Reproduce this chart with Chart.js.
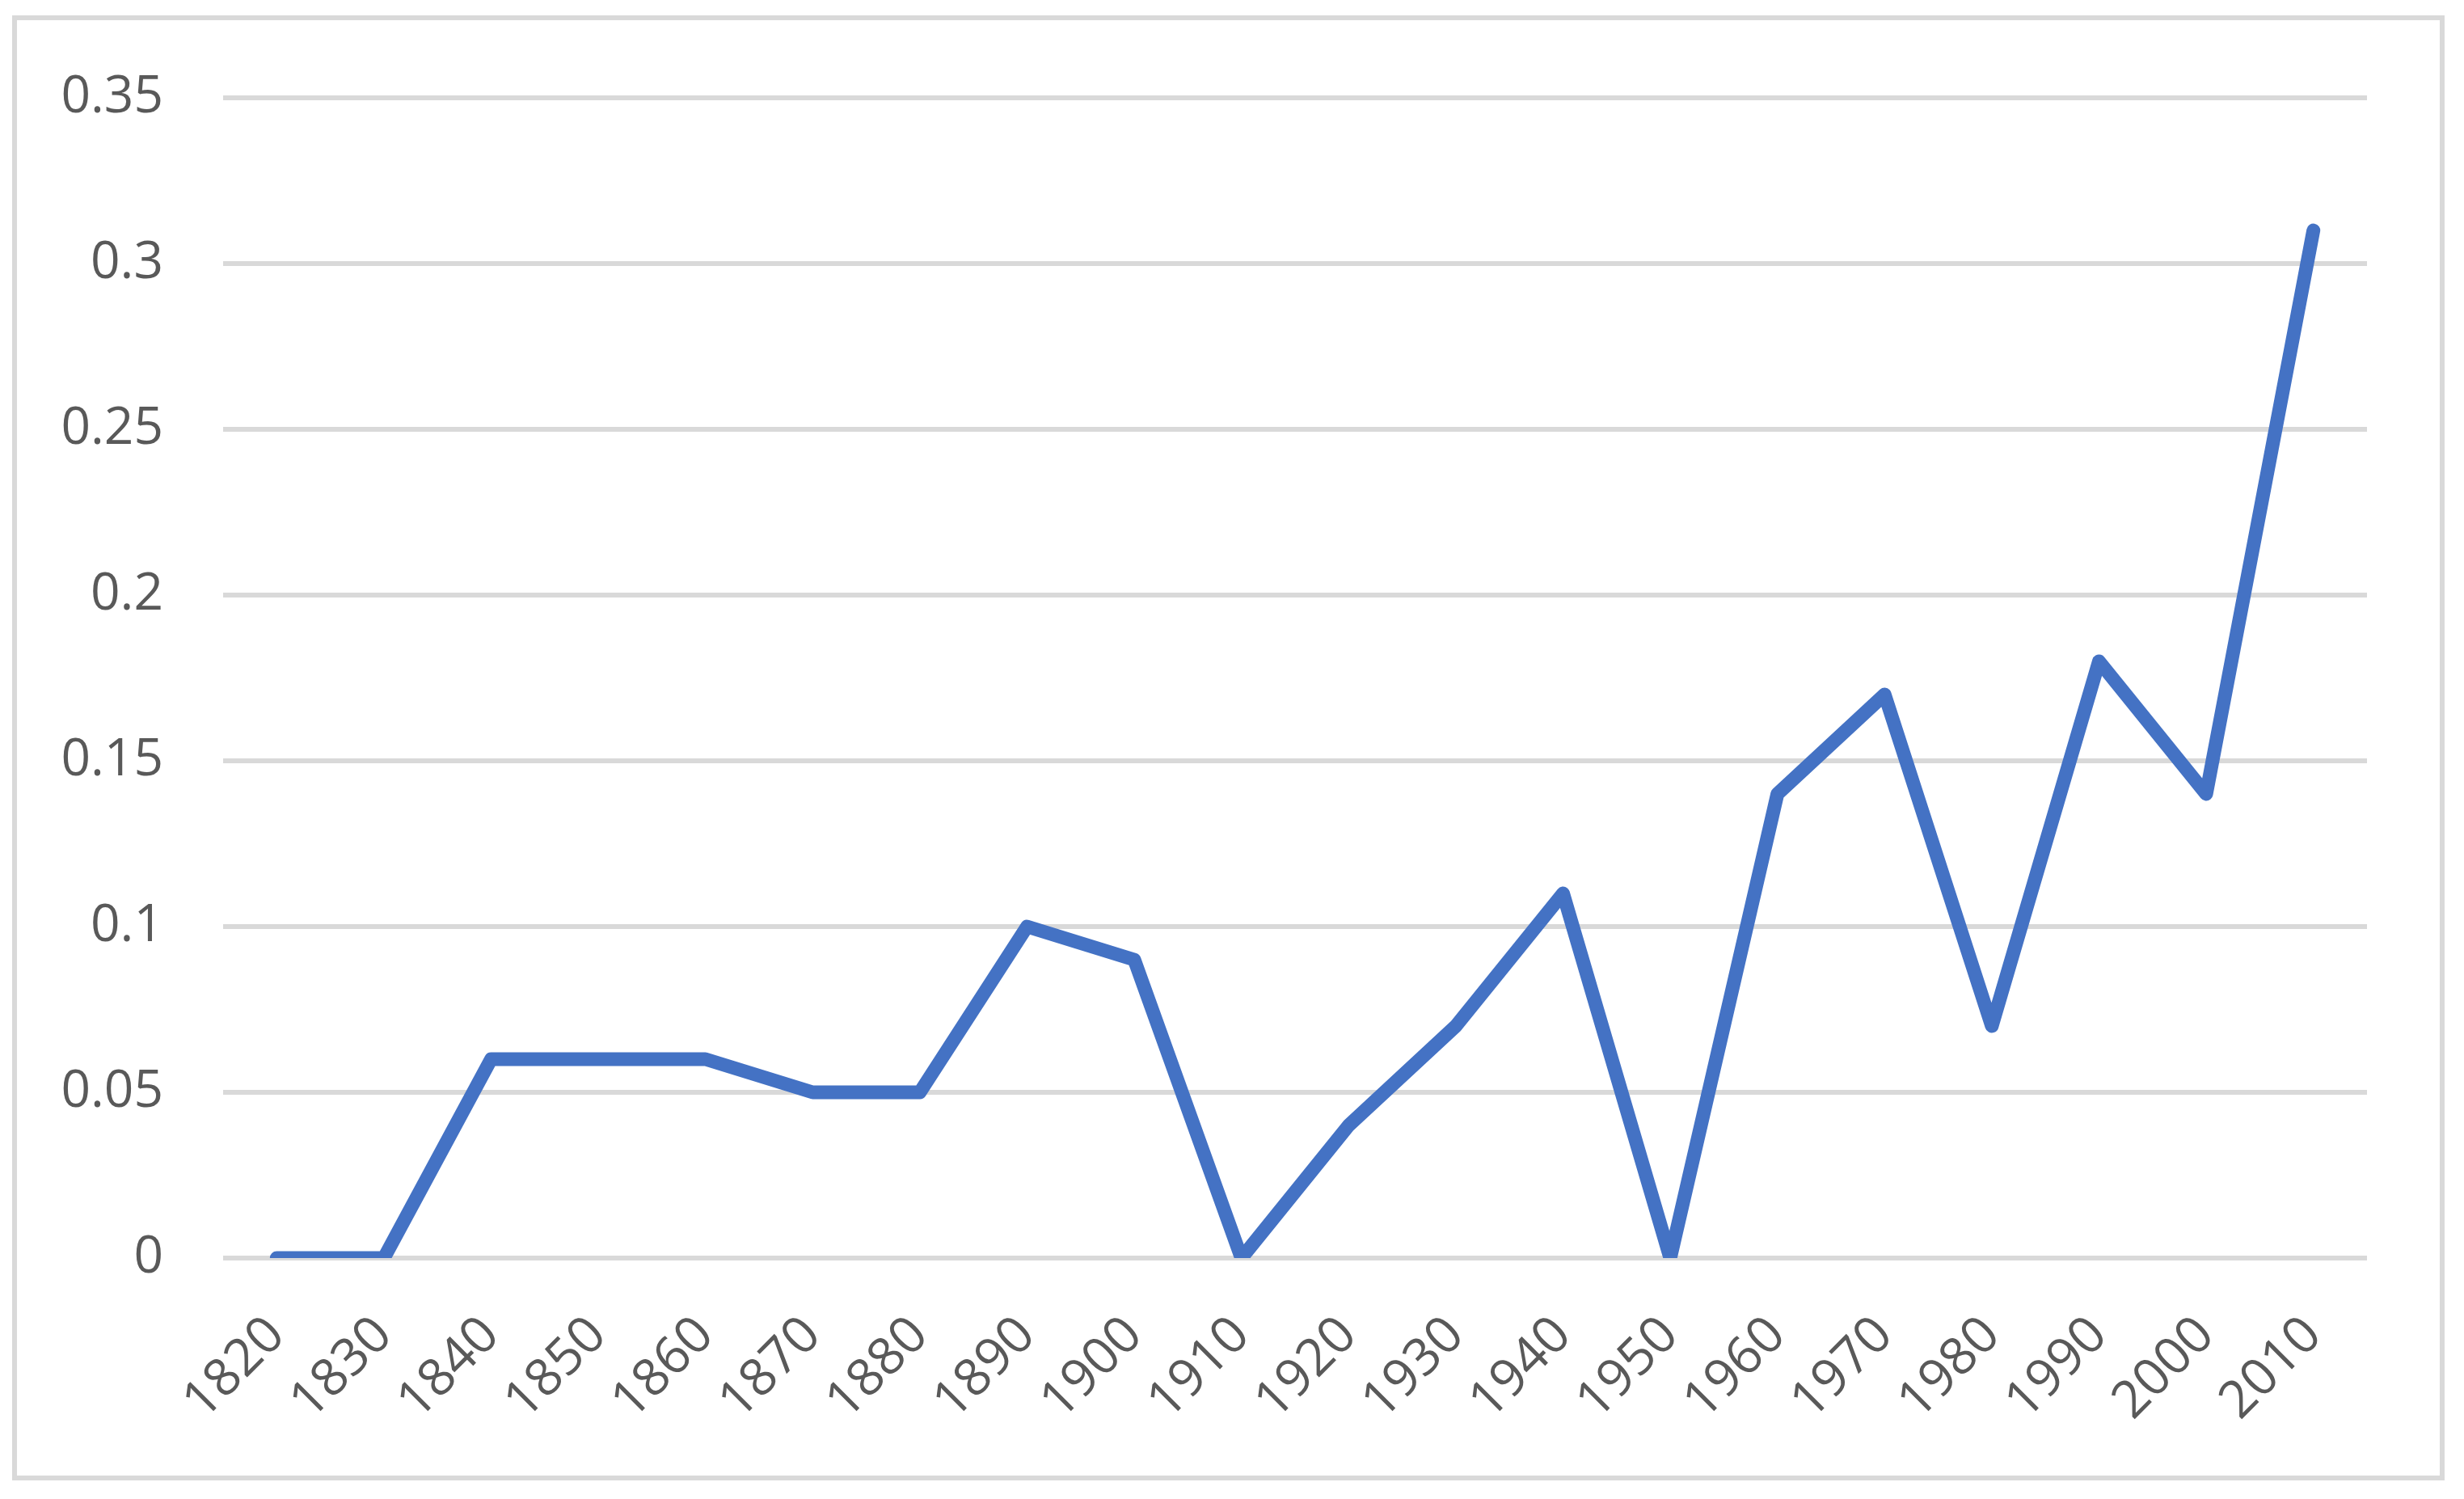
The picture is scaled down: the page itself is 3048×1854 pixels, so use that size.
<!DOCTYPE html>
<html>
<head>
<meta charset="UTF-8">
<script src="https://cdn.jsdelivr.net/npm/chart.js"></script>
<style>
  html, body { margin: 0; padding: 0; background: #fff; }
  #wrap { position: relative; width: 3048px; height: 1854px; overflow: hidden; }
  #frame {
    position: absolute; left: 15px; top: 19px; width: 3009px; height: 1812px;
    border: 6px solid #d9d9d9; box-sizing: border-box; pointer-events: none;
  }
  canvas { position: absolute; left: 0; top: 0; }
</style>
</head>
<body>
<div id="wrap">
  <canvas id="chart" width="3048" height="1854"></canvas>
  <div id="frame"></div>
</div>
<script>
// data
const decades = ['1820', '1830', '1840', '1850', '1860', '1870', '1880', '1890', '1900', '1910',
                 '1920', '1930', '1940', '1950', '1960', '1970', '1980', '1990', '2000', '2010'];
const values = [0, 0, 0.06, 0.06, 0.06, 0.05, 0.05, 0.10, 0.09, 0,
                0.04, 0.07, 0.11, 0, 0.14, 0.17, 0.07, 0.18, 0.14, 0.31];
const yTicks = [0, 0.05, 0.1, 0.15, 0.2, 0.25, 0.3, 0.35];
const yTickLabels = ['0', '0.05', '0.1', '0.15', '0.2', '0.25', '0.3', '0.35'];

const labelFont = { family: '"Open Sans", "DejaVu Sans", sans-serif', size: 64 };

new Chart(document.getElementById('chart'), {
  type: 'line',
  data: {
    labels: decades,
    datasets: [{
      data: values,
      borderColor: '#4472c4',
      borderWidth: 17,
      borderCapStyle: 'round',
      borderJoinStyle: 'round',
      pointRadius: 0,
      tension: 0,
      fill: false
    }]
  },
  options: {
    responsive: false,
    animation: false,
    devicePixelRatio: 1,
    layout: { padding: { left: 0, top: 121, right: 120, bottom: 0 } },
    plugins: { legend: { display: false }, tooltip: { enabled: false } },
    scales: {
      x: {
        offset: true,
        grid: { display: false },
        border: { display: false },
        ticks: {
          color: '#595959',
          font: labelFont,
          minRotation: 45,
          maxRotation: 45,
          autoSkip: false,
          padding: 50
        },
        afterFit: s => { s.height = 298; }
      },
      y: {
        min: 0,
        max: 0.35,
        afterBuildTicks: s => { s.ticks = yTicks.map(v => ({ value: v })); },
        grid: { color: '#d9d9d9', lineWidth: 6, drawTicks: false },
        border: { display: false },
        ticks: {
          color: '#595959',
          font: labelFont,
          padding: 74,
          callback: v => yTickLabels[yTicks.indexOf(v)] ?? ''
        },
        afterFit: s => { s.width = 276; }
      }
    }
  }
});
</script>
</body>
</html>
